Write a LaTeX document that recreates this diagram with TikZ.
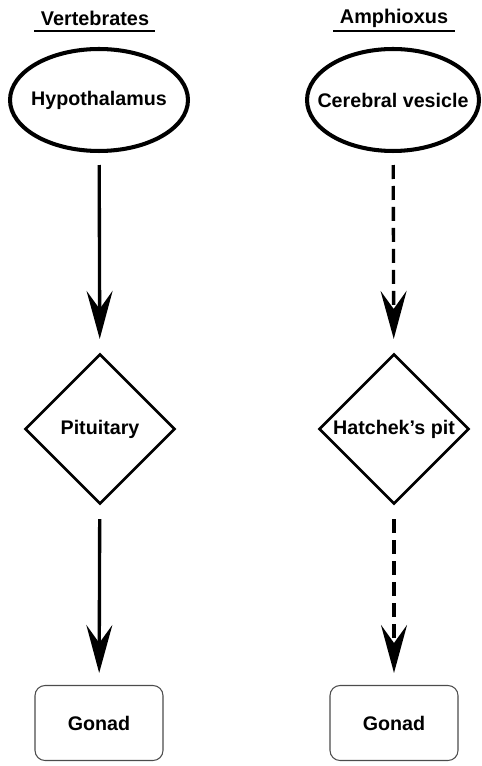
\documentclass[tikz,border=0pt]{standalone}
\usepackage{fontspec}
\setmainfont{Liberation Sans}
\usetikzlibrary{shapes.geometric,arrows.meta}
\begin{document}
\begin{tikzpicture}[x=0.02cm,y=-0.02cm,
  lbl/.style={font=\fontsize{11.2}{13}\selectfont\bfseries},
  ell/.style={ellipse,draw,line width=2.3pt,minimum width=3.56cm,minimum height=2.04cm,inner sep=0pt,lbl},
  dia/.style={diamond,draw,line width=1.5pt,minimum width=3cm,minimum height=3cm,aspect=1,inner sep=0pt,lbl},
  gbox/.style={rectangle,draw=black!70,line width=0.6pt,rounded corners=0.2cm,minimum width=2.56cm,minimum height=1.5cm,lbl},
  ttl/.style={font=\fontsize{11.3}{13}\selectfont\bfseries},
  arr/.style={line width=1.9pt,-{Stealth[length=0.96cm,width=0.52cm,inset=0.36cm]}},
  darr/.style={arr,dash pattern=on 0.28cm off 0.14cm}]
\useasboundingbox (0,0) rectangle (482,766);
\node[ttl] (t1) at (95,18) {Vertebrates};
\node[ttl] (t2) at (394,18) {Amphioxus};
\draw[line width=1.2pt] (34,31) coordinate (u1a) -- (155,31) coordinate (u1b);
\draw[line width=1.2pt] (333,31) coordinate (u2a) -- (455,31) coordinate (u2b);
\node[ell] (hyp) at (99,100) {\makebox[0pt]{Hypothalamus}};
\node[ell,minimum width=3.44cm] (cer) at (393,100) {\makebox[0pt]{Cerebral vesicle}};
\node[dia] (pit) at (100,429) {\makebox[0pt]{Pituitary}};
\node[dia] (hat) at (394,429) {\makebox[0pt]{Hatchek’s pit}};
\node[gbox] (g1) at (99,723) {Gonad};
\node[gbox] (g2) at (394,723) {Gonad};
\draw[arr,shorten <=0.24cm,shorten >=0.28cm] (hyp) -- (pit);
\draw[arr,shorten <=0.28cm,shorten >=0.24cm] (pit) -- (g1);
\draw[darr,shorten <=0.24cm,shorten >=0.28cm] (cer) -- (hat);
\draw[darr,shorten <=0.28cm,shorten >=0.24cm] (hat) -- (g2);
\end{tikzpicture}
\end{document}
